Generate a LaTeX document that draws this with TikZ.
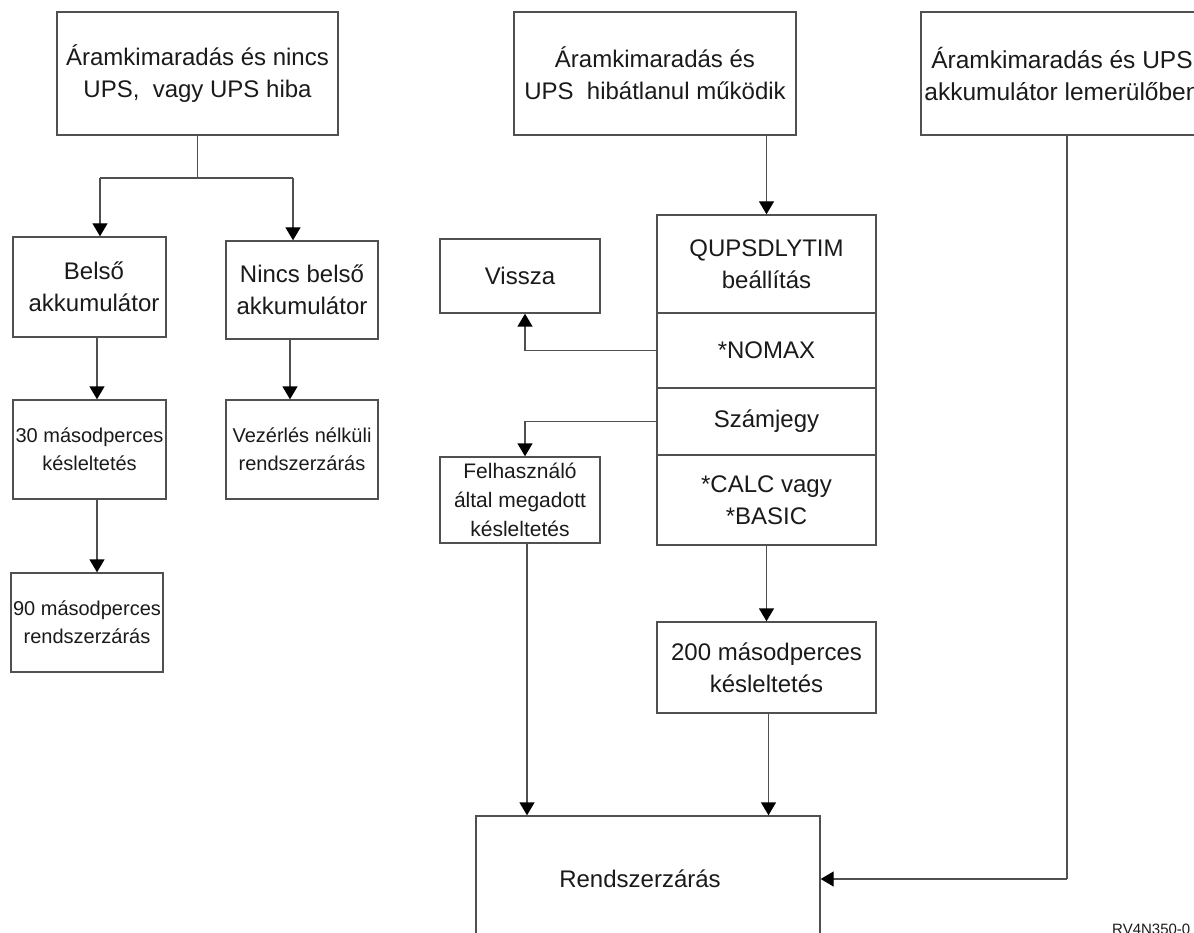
\documentclass[tikz,border=0pt]{standalone}
\usepackage{fontspec}
\setmainfont{Liberation Sans}
\usetikzlibrary{arrows.meta}
\definecolor{linec}{HTML}{505050}
\definecolor{txtc}{HTML}{1A1A1A}
\tikzset{
  box/.style={draw=linec, line width=1.4pt, inner sep=0pt, align=center, text=txtc,
    font=\fontsize{24}{32}\selectfont},
  smallbox/.style={box, font=\fontsize{20}{28}\selectfont},
  conn/.style={draw=linec, line width=1.4pt},
  arr/.style={conn, -{Triangle[width=15pt,length=13pt,color=black]}},
}
\begin{document}
\begin{tikzpicture}[x=1pt,y=-1pt]
\useasboundingbox (0,0) rectangle (1194,933);
\clip (0,0) rectangle (1194,933);
% top row
\node[box, minimum width=281, minimum height=123] (b1) at (197.5,73.5)
  {Áramkimaradás és nincs\\UPS,\ \ vagy UPS hiba};
\node[box, minimum width=282, minimum height=123] (mid) at (655,73.5)
  {Áramkimaradás és\\UPS\ \ hibátlanul működik};
\node[box, minimum width=282, minimum height=123, font=\fontsize{24.5}{32}\selectfont] (rb) at (1062,73.5)
  {Áramkimaradás és UPS\\akkumulátor lemerülőben};
% left column
\node[box, minimum width=153, minimum height=100] (belso) at (89.5,287) {\hspace*{9pt}Belső\\\hspace*{9pt}akkumulátor};
\node[box, minimum width=152, minimum height=98] (nincs) at (302,290) {Nincs belső\\akkumulátor};
\node[smallbox, minimum width=153, minimum height=99] (t30) at (89.5,449.5) {30 másodperces\\késleltetés};
\node[smallbox, minimum width=152, minimum height=99] (vez) at (302,449.5) {Vezérlés nélküli\\rendszerzárás};
\node[smallbox, minimum width=152, minimum height=99] (t90) at (87,622.5) {90 másodperces\\rendszerzárás};
% middle
\node[box, minimum width=160, minimum height=74] (vissza) at (520,276) {Vissza};
\node[box, minimum width=160, minimum height=86, font=\fontsize{21}{29}\selectfont] (felh) at (520,500)
  {Felhasználó\\által megadott\\késleltetés};
\node[box, minimum width=219, minimum height=98] (q1) at (766.5,264) {QUPSDLYTIM\\beállítás};
\node[box, minimum width=219, minimum height=75] (q2) at (766.5,350.5) {*NOMAX};
\node[box, minimum width=219, minimum height=67] (q3) at (766.5,421.5) {Számjegy};
\node[box, minimum width=219, minimum height=90] (q4) at (766.5,500) {*CALC vagy\\*BASIC};
\node[box, minimum width=219, minimum height=91] (d200) at (766.5,667.5) {200 másodperces\\késleltetés};
\node[box, minimum width=344, minimum height=126] (rend) at (648,879) {\hspace*{-16pt}Rendszerzárás};
\node[anchor=base west, inner sep=0pt, text=txtc, font=\fontsize{15}{18}\selectfont] (code) at (1112,934) {RV4N350-0};
% connectors left
\coordinate (jl) at (100,178);
\coordinate (jr) at (293,178);
\draw[conn] (b1.south) -- (b1.south |- jl);
\draw[conn] (jl) -- (jr);
\draw[arr] (jl) -- (jl |- belso.north);
\draw[arr] (jr) -- (jr |- nincs.north);
\draw[arr] ([xshift=7.5pt]belso.south) -- ([xshift=7.5pt]belso.south |- t30.north);
\draw[arr] ([xshift=-12pt]nincs.south) -- ([xshift=-12pt]nincs.south |- vez.north);
\draw[arr] ([xshift=7.5pt]t30.south) -- ([xshift=7.5pt]t30.south |- t90.north);
% connectors middle
\draw[arr] (q1.north |- mid.south) -- (q1.north);
\draw[arr] (q2.west) -| ([xshift=5pt]vissza.south);
\draw[arr] (q3.west) -| ([xshift=5pt]felh.north);
\draw[arr] ([xshift=7pt]felh.south) -- ([xshift=7pt]felh.south |- rend.north);
\draw[arr] (q4.south) -- (d200.north);
\draw[arr] ([xshift=2pt]d200.south) -- ([xshift=2pt]d200.south |- rend.north);
% right
\coordinate (rc) at (1067,879);
\draw[conn] (rb.south -| rc) -- (rc);
\draw[arr] (rc) -- (rend.east);
\end{tikzpicture}
\end{document}
